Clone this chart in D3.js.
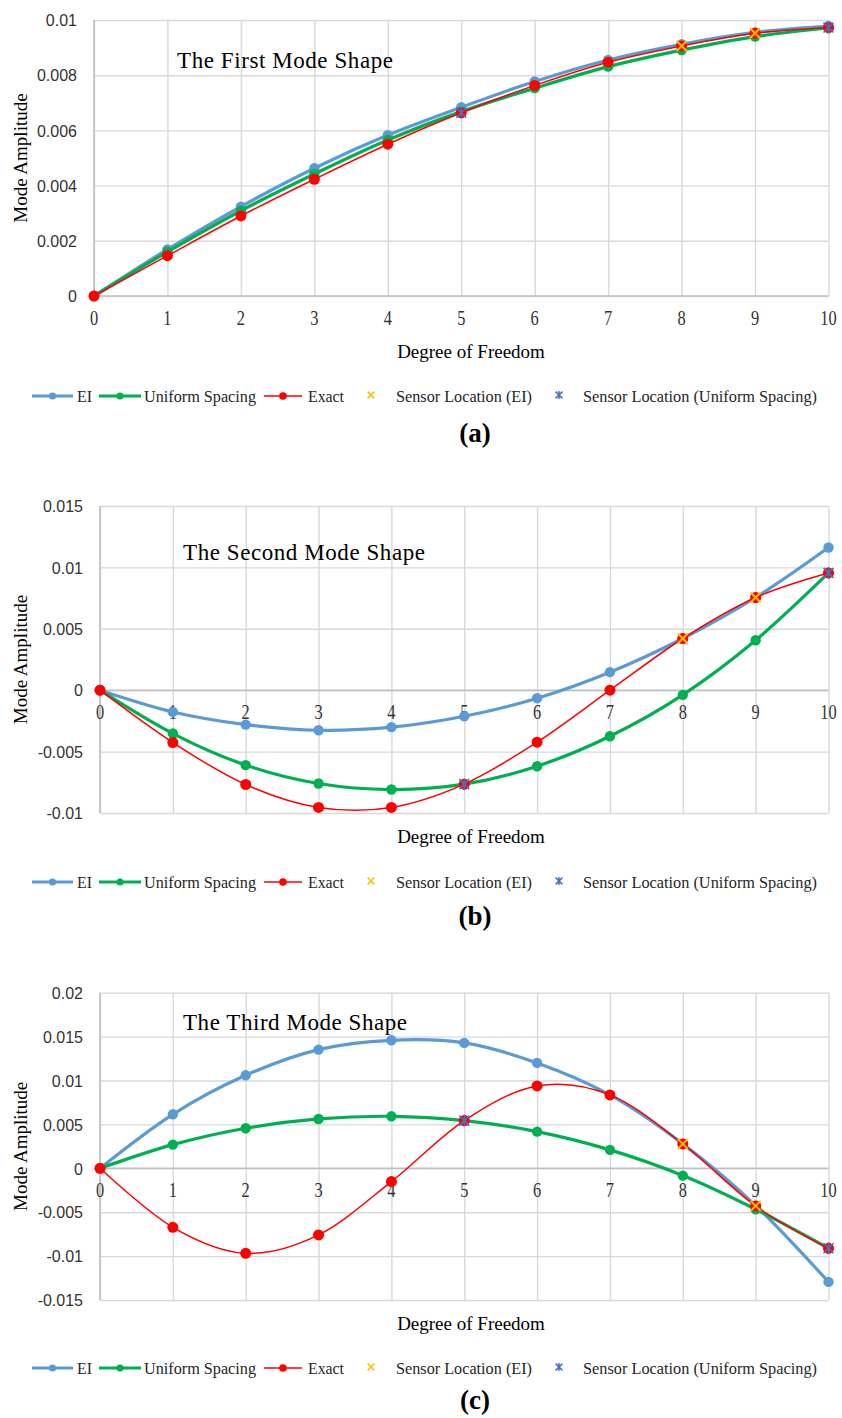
<!DOCTYPE html>
<html>
<head>
<meta charset="utf-8">
<script src="https://cdn.jsdelivr.net/npm/d3@7"></script>
<style>
  html, body { margin: 0; padding: 0; background: #fff; }
  svg { display: block; }
</style>
</head>
<body>
<svg id="chart" width="842" height="1418"></svg>
<script>
// Degrees of freedom along the beam
const dof = [0, 1, 2, 3, 4, 5, 6, 7, 8, 9, 10];
const xTickLabels = ["0", "1", "2", "3", "4", "5", "6", "7", "8", "9", "10"];

// First mode
const mode1EI      = [0, 0.00169, 0.00324, 0.00463, 0.00583, 0.00684, 0.00777, 0.00855, 0.00912, 0.00955, 0.00978];
const mode1Uniform = [0, 0.00160, 0.00309, 0.00442, 0.00565, 0.00668, 0.00753, 0.00831, 0.00891, 0.00940, 0.00971];
const mode1Exact   = [0, 0.00146, 0.00290, 0.00423, 0.00550, 0.00664, 0.00763, 0.00847, 0.00906, 0.00952, 0.00973];
const mode1Ticks   = [0, 0.002, 0.004, 0.006, 0.008, 0.01];
const mode1TickLabels = ["0", "0.002", "0.004", "0.006", "0.008", "0.01"];

// Second mode
const mode2EI      = [0, -0.00177, -0.00280, -0.00326, -0.00301, -0.00212, -0.00065, 0.00147, 0.00421, 0.00755, 0.01162];
const mode2Uniform = [0, -0.00353, -0.00610, -0.00760, -0.00809, -0.00765, -0.00619, -0.00375, -0.00038, 0.00407, 0.00955];
const mode2Exact   = [0, -0.00426, -0.00768, -0.00955, -0.00955, -0.00765, -0.00423, 0.00000, 0.00421, 0.00755, 0.00955];
const mode2Ticks   = [-0.01, -0.005, 0, 0.005, 0.01, 0.015];
const mode2TickLabels = ["-0.01", "-0.005", "0", "0.005", "0.01", "0.015"];

// Third mode
const mode3EI      = [0, 0.00615, 0.01059, 0.01352, 0.01458, 0.01428, 0.01200, 0.00836, 0.00278, -0.00425, -0.01294];
const mode3Uniform = [0, 0.00270, 0.00456, 0.00562, 0.00592, 0.00543, 0.00418, 0.00210, -0.00083, -0.00467, -0.00911];
const mode3Exact   = [0, -0.00672, -0.00968, -0.00759, -0.00151, 0.00543, 0.00938, 0.00836, 0.00278, -0.00428, -0.00911];
const mode3Ticks   = [-0.015, -0.01, -0.005, 0, 0.005, 0.01, 0.015, 0.02];
const mode3TickLabels = ["-0.015", "-0.01", "-0.005", "0", "0.005", "0.01", "0.015", "0.02"];

// Sensor placements (degree-of-freedom indices), marked on the exact shape
const sensorsEI      = [8, 9];
const sensorsUniform = [5, 10];

const seriesNames = ["EI", "Uniform Spacing", "Exact", "Sensor Location (EI)", "Sensor Location (Uniform Spacing)"];
const titles = ["The First Mode Shape", "The Second Mode Shape", "The Third Mode Shape"];
const captions = ["(a)", "(b)", "(c)"];

const COLORS = { ei: "#5B9BD5", uniform: "#00B050", exact: "#FF0000", sEI: "#FFC000", sUni: "#4472C4" };
const SERIF = "'Liberation Serif', 'Times New Roman', serif";
const SANS = "'Liberation Sans', Arial, sans-serif";

const panels = [
  { ei: mode1EI, uni: mode1Uniform, exact: mode1Exact, ticks: mode1Ticks, tickLabels: mode1TickLabels,
    title: titles[0], caption: captions[0],
    left: 94, right: 828.5, top: 20, bottom: 296, titleX: 177, titleLen: 216, titleY: 60,
    xTitleY: 351, legendY: 396, captionY: 433 },
  { ei: mode2EI, uni: mode2Uniform, exact: mode2Exact, ticks: mode2Ticks, tickLabels: mode2TickLabels,
    title: titles[1], caption: captions[1],
    left: 100, right: 828.5, top: 506, bottom: 813, titleX: 183, titleLen: 242, titleY: 552,
    xTitleY: 836, legendY: 882, captionY: 916 },
  { ei: mode3EI, uni: mode3Uniform, exact: mode3Exact, ticks: mode3Ticks, tickLabels: mode3TickLabels,
    title: titles[2], caption: captions[2],
    left: 100, right: 828.5, top: 992.7, bottom: 1300, titleX: 183, titleLen: 224, titleY: 1022,
    xTitleY: 1323, legendY: 1368, captionY: 1400 }
];

const svg = d3.select("#chart");

// "x" marker; with star=true a vertical stroke is added (asterisk-style marker)
function xMark(g, x, y, h, color, width, star) {
  g.append("path")
    .attr("d", `M${x - h},${y - h}L${x + h},${y + h}M${x - h},${y + h}L${x + h},${y - h}` +
               (star ? `M${x},${y - h * 1.2}L${x},${y + h * 1.2}` : ""))
    .attr("stroke", color).attr("stroke-width", width).attr("fill", "none")
    .attr("stroke-linecap", "butt");
}

panels.forEach(p => {
  const g = svg.append("g");
  const x = d3.scaleLinear().domain([dof[0], dof[dof.length - 1]]).range([p.left, p.right]);
  const y = d3.scaleLinear().domain([p.ticks[0], p.ticks[p.ticks.length - 1]]).range([p.bottom, p.top]);

  // horizontal gridlines and value labels
  const yAxis = d3.axisLeft(y).tickValues(p.ticks).tickSize(-(p.right - p.left))
    .tickFormat((d, i) => p.tickLabels[i]);
  const ya = g.append("g").attr("transform", `translate(${p.left},0)`).call(yAxis);
  ya.select(".domain").remove();
  ya.selectAll(".tick line").attr("stroke", "#d9d9d9").attr("stroke-width", 1.4);
  ya.selectAll(".tick text").attr("x", -17).attr("dy", "0.36em")
    .attr("font-family", SANS).attr("font-size", 16).attr("fill", "#333");

  // vertical gridlines
  const xg = g.append("g").attr("transform", `translate(0,${p.top})`)
    .call(d3.axisBottom(x).tickValues(dof).tickSize(p.bottom - p.top).tickFormat(""));
  xg.select(".domain").remove();
  xg.selectAll(".tick line").attr("stroke", "#d9d9d9").attr("stroke-width", 1.4);

  // left edge and horizontal axis at zero
  g.append("line").attr("x1", p.left).attr("x2", p.left).attr("y1", p.top).attr("y2", p.bottom)
    .attr("stroke", "#bfbfbf").attr("stroke-width", 1.6);
  g.append("line").attr("x1", p.left).attr("x2", p.right).attr("y1", y(0)).attr("y2", y(0))
    .attr("stroke", "#bfbfbf").attr("stroke-width", 1.6);

  // category labels beside the zero line
  g.append("g").selectAll("text").data(dof).join("text")
    .attr("transform", d => `translate(${x(d)},${y(0) + 22}) scale(0.82,1)`)
    .attr("text-anchor", "middle").attr("dominant-baseline", "central")
    .attr("font-family", SERIF).attr("font-size", 20).attr("fill", "#333")
    .text((d, i) => xTickLabels[i]);

  // series: smoothed lines with circular markers
  const line = d3.line().x((d, i) => x(dof[i])).y(d => y(d)).curve(d3.curveCardinal.tension(0));
  const series = [
    { vals: p.ei, color: COLORS.ei, w: 3.2, r: 5.2 },
    { vals: p.uni, color: COLORS.uniform, w: 3.2, r: 5.2 },
    { vals: p.exact, color: COLORS.exact, w: 1.5, r: 5.5 }
  ];
  series.forEach(s => {
    g.append("path").datum(s.vals).attr("d", line)
      .attr("fill", "none").attr("stroke", s.color).attr("stroke-width", s.w)
      .attr("stroke-linejoin", "round");
    g.append("g").selectAll("circle").data(s.vals).join("circle")
      .attr("cx", (d, i) => x(dof[i])).attr("cy", d => y(d)).attr("r", s.r)
      .attr("fill", s.color);
  });

  sensorsEI.forEach(k => xMark(g, x(dof[k]), y(p.exact[k]), 5, COLORS.sEI, 2, false));
  sensorsUniform.forEach(k => xMark(g, x(dof[k]), y(p.exact[k]), 5, COLORS.sUni, 1.6, true));

  // chart title
  g.append("text").attr("x", p.titleX).attr("y", p.titleY)
    .attr("dominant-baseline", "central")
    .attr("font-family", SERIF).attr("font-size", 23).attr("fill", "#000")
    .attr("textLength", p.titleLen).attr("lengthAdjust", "spacing")
    .text(p.title);

  // axis titles
  g.append("text").attr("x", 471).attr("y", p.xTitleY).attr("text-anchor", "middle")
    .attr("dominant-baseline", "central")
    .attr("font-family", SERIF).attr("font-size", 19).attr("fill", "#000")
    .text("Degree of Freedom");
  g.append("text").attr("transform", `translate(20,${(p.top + p.bottom) / 2}) rotate(-90)`)
    .attr("text-anchor", "middle").attr("dominant-baseline", "central")
    .attr("font-family", SERIF).attr("font-size", 19).attr("fill", "#000")
    .text("Mode Amplitude");

  // legend
  const ly = p.legendY;
  const lg = g.append("g");
  const legendLines = [
    { x0: 32, x1: 73, color: COLORS.ei, w: 3.2, r: 3.6 },
    { x0: 99, x1: 141, color: COLORS.uniform, w: 3.2, r: 3.6 },
    { x0: 264, x1: 302, color: COLORS.exact, w: 1.5, r: 3.8 }
  ];
  legendLines.forEach(l => {
    lg.append("line").attr("x1", l.x0).attr("x2", l.x1).attr("y1", ly).attr("y2", ly)
      .attr("stroke", l.color).attr("stroke-width", l.w);
    lg.append("circle").attr("cx", (l.x0 + l.x1) / 2).attr("cy", ly).attr("r", l.r).attr("fill", l.color);
  });
  xMark(lg, 371, ly - 1, 3.4, COLORS.sEI, 1.5, false);
  xMark(lg, 559, ly - 1, 3.4, COLORS.sUni, 1.5, true);
  const legendTexts = [
    { tx: 77, len: 15, name: seriesNames[0] }, { tx: 144, len: 112, name: seriesNames[1] },
    { tx: 308, len: 36, name: seriesNames[2] }, { tx: 396, len: 136, name: seriesNames[3] },
    { tx: 583, len: 234, name: seriesNames[4] }
  ];
  lg.selectAll("text").data(legendTexts).join("text")
    .attr("x", d => d.tx).attr("y", ly).attr("dominant-baseline", "central")
    .attr("font-family", SERIF).attr("font-size", 16).attr("fill", "#262626")
    .attr("textLength", d => d.len).attr("lengthAdjust", "spacingAndGlyphs")
    .text(d => d.name);

  // panel caption
  g.append("text").attr("x", 475).attr("y", p.captionY).attr("text-anchor", "middle")
    .attr("dominant-baseline", "central")
    .attr("font-family", SERIF).attr("font-size", 27).attr("font-weight", "bold").attr("fill", "#000")
    .text(p.caption);
});
</script>
</body>
</html>
